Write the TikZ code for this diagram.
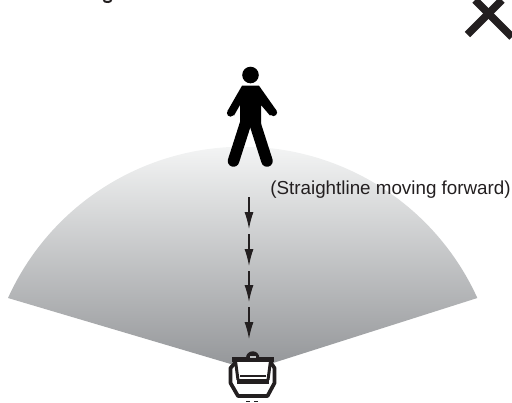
\documentclass[tikz,border=0pt]{standalone}
\usepackage{fontspec}
\setmainfont{Liberation Sans}
\usetikzlibrary{calc,arrows.meta}
\definecolor{figBlack}{RGB}{35,31,32}
\definecolor{fanTop}{RGB}{243,244,244}
\definecolor{fanBottom}{RGB}{147,149,152}
\tikzset{
  moveArrow/.style={draw=figBlack,line width=0.7pt,-{Latex[length=0.34cm,width=0.18cm]}},
  limbLine/.style={draw=black,line cap=round,line join=round},
  robotLine/.style={draw=figBlack,line width=0.075cm,line join=round}
}

\begin{document}
\begin{tikzpicture}[x=1cm,y=1cm]
\path[use as bounding box] (0,0) rectangle (10.24,-8.04);

% cut off bit at the top
\draw[figBlack,line width=0.04cm] (2.07,0) arc[start angle=190,end angle=350,x radius=0.08,y radius=0.05];

% cross
\draw[figBlack,line width=0.15cm] (9.35,-0.69) -- (10.04,0);
\draw[figBlack,line width=0.15cm] (9.50,0) -- (10.24,-0.74);

% fan
\begin{scope}
\clip (5.02,-7.40) -- (0.16,-5.96) arc[start angle=155.6,end angle=24.4,radius=5.154] -- cycle;
\shade[top color=fanTop,bottom color=fanBottom] (0.10,-2.94) rectangle (9.62,-7.40);
\end{scope}

% person
\fill[black] (5.01,-1.50) circle (0.166);
\fill[black] (4.84,-1.714) -- (5.18,-1.714) -- (5.53,-2.21) -- (5.40,-2.31) -- (5.22,-2.10) -- (5.22,-2.50) -- (4.80,-2.50) -- (4.80,-2.10) -- (4.68,-2.31) -- (4.55,-2.22) -- cycle;
\fill[black] (4.61,-2.26) circle (0.072);
\fill[black] (5.47,-2.25) circle (0.072);
\draw[limbLine,line width=0.23cm] (4.92,-2.44) -- (4.67,-3.22);
\draw[limbLine,line width=0.23cm] (5.09,-2.44) -- (5.34,-3.22);

% moving arrows
\foreach \n/\ya/\yb in {1/-3.94/-4.58,2/-4.68/-5.32,3/-5.42/-6.04,4/-6.14/-6.78}{
  \coordinate (moveStart\n) at (4.98,\ya);
  \coordinate (moveEnd\n) at (4.98,\yb);
  \draw[moveArrow] (moveStart\n) -- (moveEnd\n);
}
\node[anchor=west,inner sep=0pt,text=figBlack,font=\fontsize{10.7}{12}\selectfont] (moveLabel) at (5.40,-3.79) {(Straightline moving forward)};

% robot
\fill[white] (4.70,-7.22) -- (4.61,-7.36) -- (4.61,-7.66) -- (4.76,-7.92) -- (5.35,-7.92) -- (5.49,-7.66) -- (5.49,-7.36) -- (5.42,-7.22) -- cycle;
\draw[robotLine] (4.70,-7.26) -- (4.61,-7.36) -- (4.61,-7.66) -- (4.76,-7.92) -- (5.35,-7.92) -- (5.49,-7.66) -- (5.49,-7.36) -- (5.42,-7.26);
\fill[figBlack] (4.64,-7.23) rectangle (5.47,-7.145);
\fill[figBlack] (4.919,-7.16) arc[start angle=180,end angle=0,radius=0.135] -- cycle;
\fill[fanBottom!60] (5.00,-7.16) rectangle (5.11,-7.12);
\draw[robotLine,line width=0.06cm] (4.71,-7.22) -- (4.76,-7.60);
\draw[robotLine,line width=0.06cm] (5.41,-7.22) -- (5.36,-7.60);
\fill[figBlack] (4.80,-7.49) rectangle (5.32,-7.53);
\fill[figBlack] (4.73,-7.58) rectangle (5.38,-7.67);
\fill[figBlack] (4.92,-8.04) rectangle (5.00,-8.01);
\fill[figBlack] (5.08,-8.04) rectangle (5.16,-8.01);
\end{tikzpicture}
\end{document}
